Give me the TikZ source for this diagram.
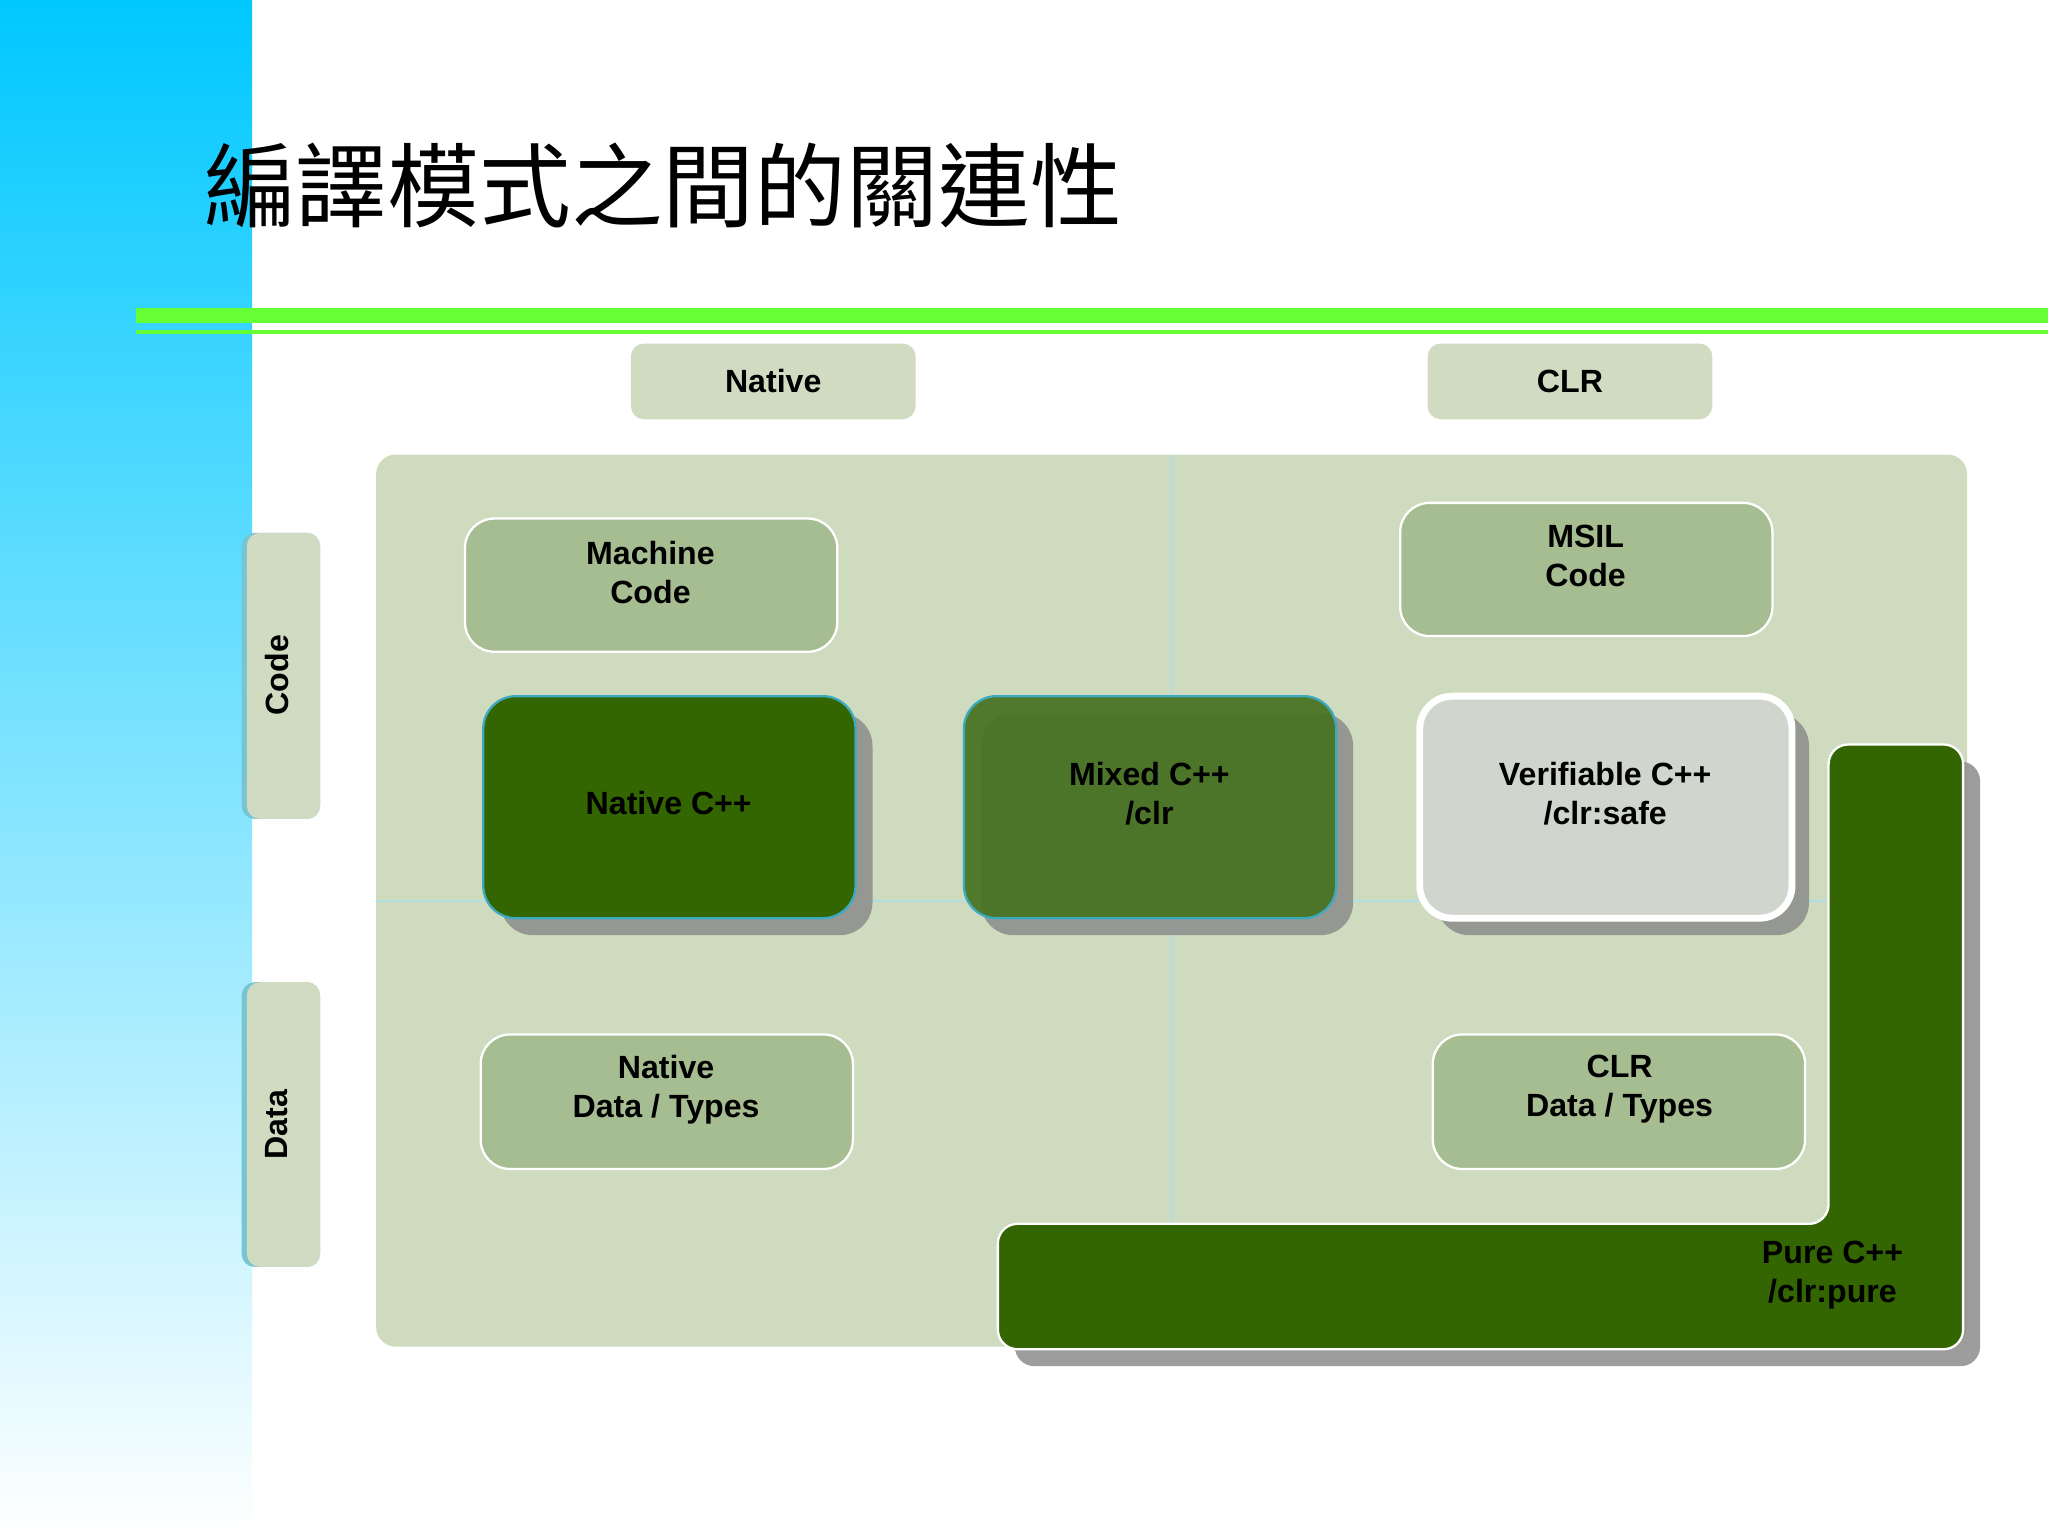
\documentclass[tikz,border=0pt]{standalone}
\usepackage{fontspec}
\setmainfont{Liberation Sans}
\newfontfamily\cjk{Noto Sans CJK TC}
\usetikzlibrary{shadows}
\definecolor{panel}{RGB}{206,219,191}
\definecolor{hdr}{RGB}{209,219,193}
\definecolor{mid}{RGB}{166,188,145}
\definecolor{dark}{RGB}{51,102,0}
\definecolor{mixed}{RGB}{74,116,36}
\definecolor{ver}{RGB}{208,213,205}
\definecolor{lime}{RGB}{102,255,51}
\definecolor{sky}{RGB}{0,200,255}
\definecolor{teal}{RGB}{60,170,190}
\tikzset{
 lbl/.style={font=\bfseries\fontsize{14}{17}\selectfont, align=center, text=black},
 midbox/.style={fill=mid, draw=white, line width=1pt, rounded corners=0.45cm},
 hdrbox/.style={fill=hdr, draw=none, rounded corners=0.2cm},
 shad/.style={fill=black!45, opacity=0.85, rounded corners=0.5cm},
 bigbox/.style={rounded corners=0.5cm, line width=1pt},
}
\begin{document}
\begin{tikzpicture}[x=0.02cm,y=-0.02cm]
\useasboundingbox (0,0) rectangle (1568,1176);
\fill[white] (0,0) rectangle (1568,1176);
\shade[top color=sky, bottom color=white] (0,0) rectangle (193,1176);
\node[font=\cjk\fontsize{40}{46}\selectfont, anchor=west] (title) at (150,142) {編譯模式之間的關連性};
\fill[lime] (104,236) rectangle (1568,247);
\fill[lime] (104,253) rectangle (1568,256);
% headers
\node[hdrbox, minimum width=218*0.02cm, minimum height=58*0.02cm, lbl] (hn) at (592,292) {Native};
\node[hdrbox, minimum width=218*0.02cm, minimum height=58*0.02cm, lbl] (hc) at (1202,292) {CLR};
% panel
\fill[panel, rounded corners=0.3cm] (288,348) rectangle (1506,1031);
\draw[teal!40, line width=0.8pt] (897,348) -- (897,937);
\draw[teal!40, line width=0.8pt] (288,690) -- (1400,690);
% side tabs
\fill[teal!70, rounded corners=0.2cm] (185,408) rectangle (245,627);
\fill[hdr, rounded corners=0.2cm] (189,408) rectangle (245,627);
\node[lbl, rotate=90] (tc) at (212,517) {Code};
\fill[teal!70, rounded corners=0.2cm] (185,752) rectangle (245,970);
\fill[hdr, rounded corners=0.2cm] (189,752) rectangle (245,970);
\node[lbl, rotate=90] (td) at (212,861) {Data};
% mid boxes
\draw[midbox] (356,397) rectangle (641,499);
\node[lbl] (mc) at (498,438) {Machine\\Code};
\draw[midbox] (1072,385) rectangle (1357,487);
\node[lbl] (ms) at (1214,426) {MSIL\\Code};
\draw[midbox] (368,792) rectangle (653,895);
\node[lbl] (nd) at (510,834) {Native\\Data / Types};
\draw[midbox] (1097,792) rectangle (1382,895);
\node[lbl] (cd) at (1240,834) {CLR\\Data / Types};
% shadows
\fill[shad] (383,546) rectangle (668,716);
\fill[shad] (751,546) rectangle (1036,716);
\fill[shad] (1100,546) rectangle (1385,716);
\fill[shad, rounded corners=0.3cm] (1413,583) -- (1516,583) -- (1516,1046) -- (777,1046) -- (777,950) -- (1413,950) -- cycle;
% dark boxes
\draw[bigbox, fill=dark, draw=teal] (370,533) rectangle (655,703);
\node[lbl] (nc) at (512,615) {Native C++};
\draw[bigbox, fill=mixed, fill opacity=0.95, draw=teal] (738,533) rectangle (1023,703);
\node[lbl] (mx) at (880,608) {Mixed C++\\/clr};
\draw[bigbox, fill=ver, draw=white, line width=3pt] (1087,533) rectangle (1372,703);
\node[lbl] (vc) at (1229,608) {Verifiable C++\\/clr:safe};
\draw[fill=dark, draw=white, line width=1pt, rounded corners=0.3cm] (1400,570) -- (1503,570) -- (1503,1033) -- (764,1033) -- (764,937) -- (1400,937) -- cycle;
\node[lbl] (pc) at (1403,976) {Pure C++\\/clr:pure};
\end{tikzpicture}
\end{document}
